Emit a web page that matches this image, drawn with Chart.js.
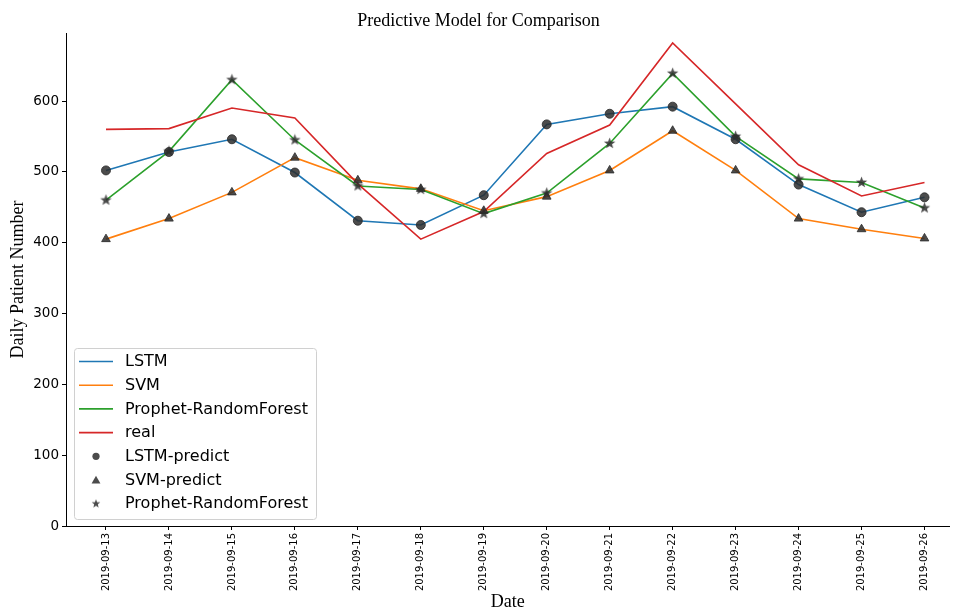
<!DOCTYPE html>
<html><head><meta charset="utf-8">
<script src="https://cdn.jsdelivr.net/npm/chart.js@4.4.1/dist/chart.umd.min.js"></script>
<style>html,body{margin:0;padding:0;background:#fff}#wrap{width:957px;height:611px;position:relative}</style>
</head><body><div id="wrap"><canvas id="c" width="957" height="611"></canvas></div>
<script>
const dates = ['2019-09-13','2019-09-14','2019-09-15','2019-09-16','2019-09-17','2019-09-18','2019-09-19','2019-09-20','2019-09-21','2019-09-22','2019-09-23','2019-09-24','2019-09-25','2019-09-26'];
const lstm    = [502,528,546,499,431,425,467,567,582,592,546,482,443,464];
const svm     = [405,434,471,520,488,476,445,465,502,558,502,434,419,406];
const prophet = [460,529,630,545,480,475,441,470,540,639,550,490,485,449];
const real    = [560,561,590,576,483,405,444,526,566,682,596,510,466,485];
const yTicks  = [0,100,200,300,400,500,600];

const markerColor = 'rgba(45,45,45,0.85)';
function starCanvas(size){
  const c = document.createElement('canvas');
  c.width = size; c.height = size;
  const g = c.getContext('2d');
  const cx = size/2, cy = size/2, R = size/2 - 0.5, r = R*0.42;
  g.beginPath();
  for(let i=0;i<10;i++){
    const a = -Math.PI/2 + i*Math.PI/5;
    const rr = i%2===0 ? R : r;
    const x = cx + rr*Math.cos(a), y = cy + rr*Math.sin(a);
    i===0 ? g.moveTo(x,y) : g.lineTo(x,y);
  }
  g.closePath();
  g.fillStyle = markerColor; g.fill();
  return c;
}
const starBig = starCanvas(13);
const starSmall = starCanvas(10);

const pts = arr => arr.map((v,i)=>({x:i,y:v}));
function lineDS(label, arr, color, order){
  return {label, data:pts(arr), borderColor:color, backgroundColor:color, borderWidth:1.6, pointRadius:0, tension:0, fill:false, order};
}
function markDS(label, arr, style, radius){
  return {label, data:pts(arr), showLine:false, pointStyle:style, pointRadius:radius, pointHoverRadius:radius,
    backgroundColor:markerColor, borderColor:markerColor, borderWidth:1, order:0};
}

const datasets = [
  lineDS('LSTM', lstm, '#1f77b4', 4),
  lineDS('SVM', svm, '#ff7f0e', 3),
  lineDS('Prophet-RandomForest', prophet, '#2ca02c', 2),
  lineDS('real', real, '#d62728', 1),
  markDS('LSTM-predict', lstm, 'circle', 4.5),
  markDS('SVM-predict', svm, 'triangle', 5),
  markDS('Prophet-RandomForest', prophet, starBig, 6.5)
];

const legendPlugin = {
  id:'insideLegend',
  afterDraw(chart){
    const ctx = chart.ctx;
    const x0 = 74, y0 = 348, w = 242, h = 171;
    ctx.save();
    ctx.beginPath();
    if (ctx.roundRect) ctx.roundRect(x0+0.5, y0+0.5, w, h, 3); else ctx.rect(x0+0.5,y0+0.5,w,h);
    ctx.fillStyle = 'rgba(255,255,255,0.85)';
    ctx.fill();
    ctx.strokeStyle = '#d0d0d0'; ctx.lineWidth = 1; ctx.stroke();
    ctx.font = '16px "DejaVu Sans"';
    ctx.textBaseline = 'middle';
    ctx.fillStyle = '#000';
    chart.data.datasets.forEach((ds,i)=>{
      const y = 361.5 + i*23.7;
      if (ds.showLine === false){
        const cx = 96;
        ctx.fillStyle = markerColor;
        if (ds.pointStyle === 'circle'){
          ctx.beginPath(); ctx.arc(cx, y, 3.6, 0, Math.PI*2); ctx.fill();
        } else if (ds.pointStyle === 'triangle'){
          ctx.beginPath(); ctx.moveTo(cx, y-4.2); ctx.lineTo(cx+4.4, y+3.4); ctx.lineTo(cx-4.4, y+3.4); ctx.closePath(); ctx.fill();
        } else {
          ctx.drawImage(starSmall, cx-5, y-5);
        }
      } else {
        ctx.strokeStyle = ds.borderColor; ctx.lineWidth = 1.6;
        ctx.beginPath(); ctx.moveTo(79, y); ctx.lineTo(113, y); ctx.stroke();
      }
      ctx.fillStyle = '#000';
      ctx.fillText(ds.label, 125, y+0.5);
    });
    ctx.restore();
  }
};

new Chart(document.getElementById('c'), {
  type:'line',
  data:{datasets},
  options:{
    responsive:false, animation:false, devicePixelRatio:1,
    layout:{padding:{left:0,right:0,top:0,bottom:0}},
    plugins:{
      legend:{display:false},
      tooltip:{enabled:false},
      title:{display:true, text:'Predictive Model for Comparison', color:'#000',
        font:{family:'"Liberation Serif"', size:18, weight:'normal', lineHeight:1.2}, padding:{top:10,bottom:1.4}}
    },
    scales:{
      x:{type:'linear', min:-0.635, max:13.397,
        afterBuildTicks:s=>{ s.ticks = dates.map((d,i)=>({value:i})); },
        afterFit:s=>{ s.height = 85; },
        ticks:{autoSkip:false, maxRotation:90, minRotation:90, color:'#000', padding:3,
          font:{family:'"DejaVu Sans"', size:10}, callback:v=>dates[v]},
        grid:{drawOnChartArea:false, drawTicks:true, tickLength:4, color:'#000'},
        border:{display:true, color:'#000', width:1},
        title:{display:true, text:'Date', color:'#000', font:{family:'"Liberation Serif"', size:18, lineHeight:1}, padding:{top:0,bottom:0}}
      },
      y:{min:0, max:696,
        afterBuildTicks:s=>{ s.ticks = yTicks.map(v=>({value:v})); },
        afterFit:s=>{ s.width = 66; },
        ticks:{color:'#000', padding:3, font:{family:'"DejaVu Sans"', size:13.5}},
        grid:{drawOnChartArea:false, drawTicks:true, tickLength:4, color:'#000'},
        border:{display:true, color:'#000', width:1},
        title:{display:true, text:'Daily Patient Number', color:'#000', font:{family:'"Liberation Serif"', size:18, lineHeight:1}, padding:{top:9,bottom:0}}
      }
    }
  },
  plugins:[legendPlugin]
});
</script></body></html>
